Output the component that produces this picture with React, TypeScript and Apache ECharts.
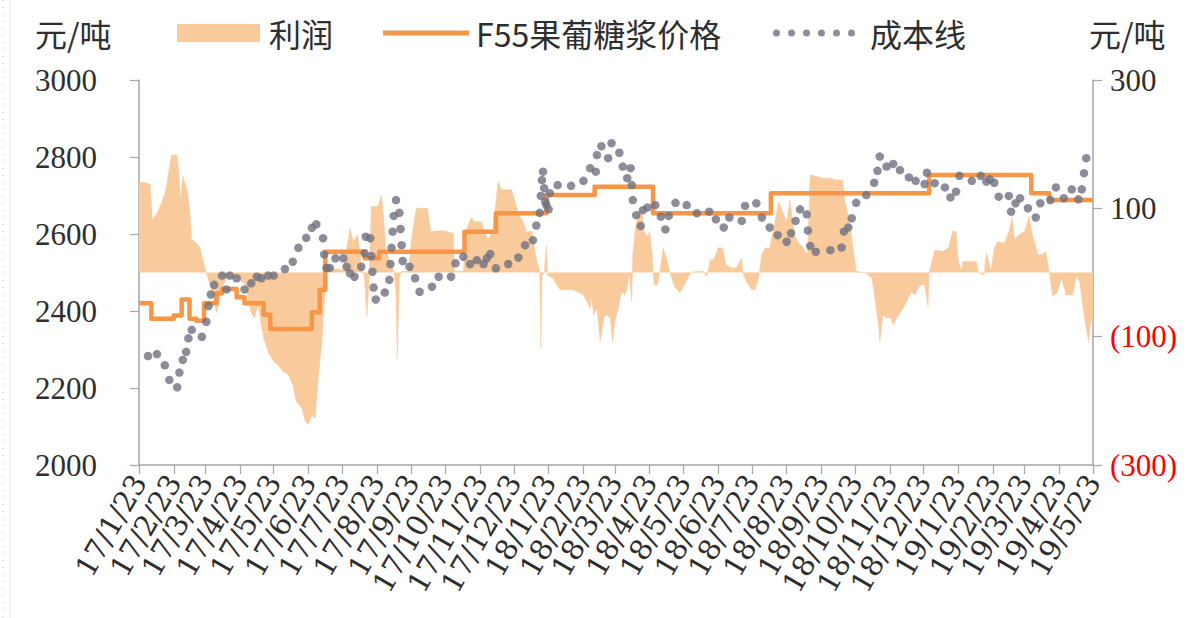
import React, { useEffect, useRef } from 'react';
import * as echarts from 'echarts';

// Monthly tick dates on the x axis (the 23rd of each month)
const monthTicks = [
  '2017-01-23', '2017-02-23', '2017-03-23', '2017-04-23', '2017-05-23', '2017-06-23',
  '2017-07-23', '2017-08-23', '2017-09-23', '2017-10-23', '2017-11-23', '2017-12-23',
  '2018-01-23', '2018-02-23', '2018-03-23', '2018-04-23', '2018-05-23', '2018-06-23',
  '2018-07-23', '2018-08-23', '2018-09-23', '2018-10-23', '2018-11-23', '2018-12-23',
  '2019-01-23', '2019-02-23', '2019-03-23', '2019-04-23', '2019-05-23',
];
const rightTicks = [-300, -100, 100, 300];

// F55果葡糖浆价格 (step changes)
const priceDates = [
  '2017-01-23', '2017-02-03', '2017-02-23', '2017-03-02', '2017-03-09', '2017-03-15', '2017-03-22',
  '2017-04-02', '2017-04-07', '2017-04-20', '2017-04-27', '2017-05-14', '2017-05-20', '2017-06-26',
  '2017-07-03', '2017-07-08', '2017-08-12', '2017-08-25', '2017-11-09', '2017-12-07', '2018-01-21',
  '2018-03-05', '2018-04-26', '2018-08-09', '2018-12-28', '2019-03-29', '2019-04-14', '2019-05-23',
];
const priceValues = [
  2420, 2380, 2388, 2430, 2380, 2375, 2420,
  2446, 2457, 2436, 2420, 2390, 2353, 2397,
  2455, 2554, 2537, 2554, 2606, 2654, 2701,
  2723, 2654, 2706, 2753, 2706, 2688, 2688,
];

// 成本线
const costDates = [
  '2017-01-31', '2017-02-08', '2017-02-15', '2017-02-19', '2017-02-26', '2017-02-28', '2017-03-03',
  '2017-03-06', '2017-03-08', '2017-03-11', '2017-03-20', '2017-03-24', '2017-03-26', '2017-03-28',
  '2017-03-31', '2017-04-07', '2017-04-11', '2017-04-14', '2017-04-20', '2017-04-27', '2017-05-03',
  '2017-05-08', '2017-05-12', '2017-05-18', '2017-05-23', '2017-06-02', '2017-06-09', '2017-06-14',
  '2017-06-21', '2017-06-26', '2017-06-30', '2017-07-06', '2017-07-07', '2017-07-09', '2017-07-12',
  '2017-07-17', '2017-07-24', '2017-07-27', '2017-07-30', '2017-08-03', '2017-08-09', '2017-08-12',
  '2017-08-13', '2017-08-17', '2017-08-18', '2017-08-19', '2017-08-20', '2017-08-22', '2017-08-30',
  '2017-09-03', '2017-09-04', '2017-09-05', '2017-09-06', '2017-09-07', '2017-09-09', '2017-09-12',
  '2017-09-13', '2017-09-14', '2017-09-15', '2017-09-21', '2017-09-26', '2017-09-30', '2017-10-11',
  '2017-10-17', '2017-10-28', '2017-11-01', '2017-11-08', '2017-11-14', '2017-11-20', '2017-11-26',
  '2017-11-29', '2017-12-02', '2017-12-07', '2017-12-18', '2017-12-27', '2018-01-02', '2018-01-09',
  '2018-01-12', '2018-01-15', '2018-01-16', '2018-01-17', '2018-01-18', '2018-01-19', '2018-01-20',
  '2018-01-21', '2018-01-23', '2018-01-24', '2018-01-31', '2018-02-12', '2018-02-23', '2018-03-01',
  '2018-03-06', '2018-03-07', '2018-03-11', '2018-03-17', '2018-03-20', '2018-03-27', '2018-03-30',
  '2018-04-03', '2018-04-06', '2018-04-07', '2018-04-08', '2018-04-11', '2018-04-15', '2018-04-17',
  '2018-04-21', '2018-04-28', '2018-05-03', '2018-05-07', '2018-05-10', '2018-05-16', '2018-05-26',
  '2018-06-04', '2018-06-15', '2018-06-21', '2018-06-28', '2018-07-03', '2018-07-14', '2018-07-17',
  '2018-07-27', '2018-08-01', '2018-08-08', '2018-08-15', '2018-08-23', '2018-08-27', '2018-08-31',
  '2018-09-04', '2018-09-10', '2018-09-11', '2018-09-13', '2018-09-18', '2018-10-01', '2018-10-11',
  '2018-10-13', '2018-10-17', '2018-10-20', '2018-10-24', '2018-11-02', '2018-11-09', '2018-11-12',
  '2018-11-14', '2018-11-20', '2018-11-26', '2018-12-02', '2018-12-10', '2018-12-16', '2018-12-24',
  '2018-12-26', '2019-01-02', '2019-01-11', '2019-01-16', '2019-01-21', '2019-01-24', '2019-02-04',
  '2019-02-12', '2019-02-17', '2019-02-20', '2019-02-24', '2019-02-28', '2019-03-09', '2019-03-11',
  '2019-03-15', '2019-03-19', '2019-03-26', '2019-04-02', '2019-04-06', '2019-04-15', '2019-04-20',
  '2019-04-27', '2019-05-04', '2019-05-10', '2019-05-13', '2019-05-15', '2019-05-17',
];
const costValues = [
  2283, 2288, 2259, 2221, 2202, 2240, 2273,
  2294, 2329, 2351, 2333, 2372, 2413, 2443,
  2468, 2492, 2456, 2492, 2485, 2456, 2472,
  2489, 2485, 2492, 2492, 2509, 2528, 2564,
  2590, 2616, 2625, 2589, 2547, 2512, 2512,
  2537, 2537, 2515, 2498, 2489, 2515, 2550,
  2593, 2589, 2543, 2502, 2461, 2430, 2448,
  2481, 2522, 2564, 2606, 2647, 2688, 2655,
  2613, 2571, 2530, 2515, 2485, 2450, 2463,
  2489, 2489, 2524, 2541, 2522, 2532, 2522,
  2537, 2548, 2511, 2522, 2539, 2571, 2584,
  2622, 2655, 2699, 2740, 2762, 2719, 2684,
  2675, 2664, 2706, 2727, 2725, 2738, 2771,
  2762, 2805, 2828, 2797, 2836, 2811, 2775,
  2745, 2771, 2727, 2688, 2649, 2621, 2662,
  2669, 2675, 2645, 2612, 2647, 2681, 2675,
  2654, 2658, 2638, 2617, 2643, 2634, 2673,
  2680, 2643, 2617, 2597, 2580, 2602, 2634,
  2664, 2651, 2609, 2569, 2554, 2558, 2565,
  2606, 2617, 2641, 2681, 2701, 2733, 2764,
  2801, 2775, 2782, 2766, 2747, 2738, 2730,
  2759, 2732, 2721, 2695, 2710, 2751, 2738,
  2751, 2736, 2742, 2733, 2697, 2699, 2658,
  2680, 2693, 2667, 2643, 2680, 2688, 2721,
  2693, 2716, 2690, 2716, 2758, 2797,
];

// 利润 (right axis)
const profitDates = [
  '2017-01-23', '2017-01-31', '2017-02-02', '2017-02-04', '2017-02-08', '2017-02-12', '2017-02-16',
  '2017-02-19', '2017-02-21', '2017-02-26', '2017-02-28', '2017-03-01', '2017-03-03', '2017-03-07',
  '2017-03-09', '2017-03-11', '2017-03-14', '2017-03-18', '2017-03-21', '2017-03-24', '2017-03-27',
  '2017-03-30', '2017-04-02', '2017-04-04', '2017-04-07', '2017-04-11', '2017-04-20', '2017-04-27',
  '2017-05-03', '2017-05-06', '2017-05-09', '2017-05-14', '2017-05-18', '2017-05-23', '2017-05-27',
  '2017-05-31', '2017-06-05', '2017-06-09', '2017-06-12', '2017-06-17', '2017-06-20', '2017-06-23',
  '2017-06-26', '2017-06-29', '2017-07-02', '2017-07-05', '2017-07-07', '2017-07-09', '2017-07-12',
  '2017-07-24', '2017-07-30', '2017-08-02', '2017-08-06', '2017-08-09', '2017-08-12', '2017-08-14',
  '2017-08-16', '2017-08-18', '2017-08-24', '2017-08-27', '2017-08-29', '2017-08-31', '2017-09-07',
  '2017-09-09', '2017-09-10', '2017-09-12', '2017-09-14', '2017-09-20', '2017-09-23', '2017-09-27',
  '2017-10-07', '2017-10-10', '2017-10-21', '2017-10-30', '2017-10-31', '2017-11-08', '2017-11-10',
  '2017-11-15', '2017-11-18', '2017-11-24', '2017-11-27', '2017-11-30', '2017-12-04', '2017-12-09',
  '2017-12-12', '2017-12-21', '2017-12-24', '2017-12-28', '2017-12-31', '2018-01-03', '2018-01-08',
  '2018-01-12', '2018-01-15', '2018-01-16', '2018-01-17', '2018-01-19', '2018-01-21', '2018-01-22',
  '2018-01-27', '2018-01-30', '2018-02-02', '2018-02-14', '2018-02-23', '2018-02-26', '2018-03-01',
  '2018-03-02', '2018-03-04', '2018-03-07', '2018-03-10', '2018-03-13', '2018-03-16', '2018-03-19',
  '2018-03-21', '2018-03-23', '2018-03-26', '2018-03-29', '2018-04-01', '2018-04-03', '2018-04-05',
  '2018-04-07', '2018-04-08', '2018-04-10', '2018-04-13', '2018-04-16', '2018-04-18', '2018-04-21',
  '2018-04-23', '2018-04-25', '2018-04-27', '2018-04-30', '2018-05-02', '2018-05-05', '2018-05-08',
  '2018-05-11', '2018-05-15', '2018-05-20', '2018-05-23', '2018-05-27', '2018-05-30', '2018-06-04',
  '2018-06-10', '2018-06-13', '2018-06-16', '2018-06-19', '2018-06-23', '2018-06-27', '2018-06-30',
  '2018-07-05', '2018-07-09', '2018-07-14', '2018-07-15', '2018-07-18', '2018-07-23', '2018-07-26',
  '2018-07-29', '2018-08-01', '2018-08-04', '2018-08-08', '2018-08-11', '2018-08-16', '2018-08-20',
  '2018-08-23', '2018-08-26', '2018-08-30', '2018-09-02', '2018-09-07', '2018-09-10', '2018-09-11',
  '2018-09-13', '2018-09-19', '2018-09-24', '2018-10-01', '2018-10-06', '2018-10-12', '2018-10-14',
  '2018-10-17', '2018-10-20', '2018-10-22', '2018-10-24', '2018-11-02', '2018-11-07', '2018-11-10',
  '2018-11-13', '2018-11-14', '2018-11-17', '2018-11-20', '2018-11-24', '2018-11-26', '2018-11-29',
  '2018-12-03', '2018-12-08', '2018-12-12', '2018-12-15', '2018-12-20', '2018-12-24', '2018-12-27',
  '2018-12-28', '2019-01-02', '2019-01-09', '2019-01-14', '2019-01-18', '2019-01-21', '2019-01-23',
  '2019-01-26', '2019-01-27', '2019-02-08', '2019-02-10', '2019-02-15', '2019-02-17', '2019-02-20',
  '2019-02-21', '2019-02-24', '2019-02-27', '2019-03-05', '2019-03-09', '2019-03-12', '2019-03-14',
  '2019-03-18', '2019-03-23', '2019-03-27', '2019-03-30', '2019-04-04', '2019-04-08', '2019-04-11',
  '2019-04-14', '2019-04-17', '2019-04-21', '2019-04-25', '2019-04-29', '2019-05-05', '2019-05-08',
  '2019-05-11', '2019-05-15', '2019-05-19', '2019-05-21', '2019-05-23',
];
const profitValues = [
  141, 139, 137, 82, 92, 108, 129,
  163, 183, 183, 147, 111, 150, 129,
  100, 51, 48, 40, 20, 0, -19,
  -35, -63, -50, -24, -9, -9, -17,
  -63, -71, -50, -102, -123, -139, -144,
  -154, -159, -175, -201, -211, -232, -237,
  -222, -227, -159, -108, -50, 0, 7,
  4, 69, 48, 59, 12, -10, -69,
  -14, 103, 103, 121, 85, 33, 2,
  -30, -134, -9, 2, 2, 54, 100,
  100, 64, 65, 61, 2, 2, 64,
  86, 79, 79, 64, 51, 64, 142,
  129, 129, 111, 87, 82, 64, 64,
  22, 2, -118, -5, 0, 43, -5,
  -9, -19, -27, -27, -35, -45, -56,
  -35, -66, -56, -108, -71, -66, -71,
  -108, -76, -56, -30, -35, -24, 0,
  -45, 28, 64, 95, 100, 64, 56,
  64, 33, -19, -19, 0, 38, 22,
  0, -22, -32, -22, -9, 0, 2,
  2, -6, 20, 20, 38, 38, 12,
  7, 7, 22, 0, -14, -27, -27,
  -9, 28, 38, 38, 64, 111, 92,
  79, 113, 59, 48, 38, 28, 38,
  152, 150, 147, 147, 144, 144, 111,
  90, 54, 28, 2, -1, -9, -45,
  -82, -108, -66, -71, -71, -82, -71,
  -61, -45, -30, -35, -19, -19, -53,
  0, 35, 33, 38, 64, 64, 17,
  2, 17, 17, 0, -4, 30, 12,
  2, 38, 48, 46, 64, 87, 51,
  59, 64, 87, 59, 28, 28, 33,
  0, -37, -32, -9, -35, -35, -6,
  -14, -66, -108, -76, -76,
];

const PROFIT_COLOR = '#F9CB9C';
const PRICE_COLOR = '#F79646';
const COST_COLOR = '#6F717F';
const AXIS_COLOR = '#A6A6A6';
const TEXT_COLOR = '#2E2E2E';
const CJK_FONT = "'Noto Sans CJK SC', 'Noto Sans', sans-serif";
const SERIF = "'Liberation Serif', 'Times New Roman', serif";

// date string -> UTC timestamp (x position on the date axis)
function toTs(s: string): number {
  const [y, m, d] = s.split('-').map(Number);
  return Date.UTC(y, m - 1, d);
}

function dotsIcon(): string {
  const r = 3.5;
  let d = 'path://';
  for (let k = 0; k < 6; k++) {
    const cx = r + k * 15;
    d += `M${cx - r},${r} a${r},${r} 0 1,0 ${2 * r},0 a${r},${r} 0 1,0 ${-2 * r},0 Z `;
  }
  return d.trim();
}

export default function App() {
  const ref = useRef<HTMLDivElement>(null);

  useEffect(() => {
    if (!ref.current) return;
    const chart = echarts.init(ref.current, null, { renderer: 'svg' });

    const legendText = { fontFamily: CJK_FONT, fontSize: 32, color: TEXT_COLOR };
    const tickTs = monthTicks.map(toTs);

    const option: any = {
      animation: false,
      backgroundColor: '#ffffff',
      grid: { left: 139, right: 111, top: 80, bottom: 153, containLabel: false },
      legend: [
        {
          data: ['利润'], left: 172, top: 12, icon: 'rect', itemWidth: 83, itemHeight: 18,
          textStyle: { ...legendText, padding: [0, 0, 0, 4] }, selectedMode: false,
        },
        {
          data: ['F55果葡糖浆价格'], left: 378, top: 12, icon: 'rect', itemWidth: 86, itemHeight: 5,
          textStyle: { ...legendText, padding: [0, 0, 0, 2] }, selectedMode: false,
        },
        {
          data: ['成本线'], left: 768, top: 12, icon: dotsIcon(), itemWidth: 82, itemHeight: 7,
          textStyle: { ...legendText, padding: [0, 0, 0, 10] }, selectedMode: false,
        },
      ],
      graphic: [
        { type: 'line', shape: { x1: 3, y1: 0, x2: 3, y2: 618 }, style: { stroke: '#BBBBBB', lineDash: [1, 6], lineWidth: 1 } },
        { type: 'line', shape: { x1: 10, y1: 0, x2: 10, y2: 618 }, style: { stroke: '#E8E8E8', lineWidth: 1 } },
        {
          type: 'text', left: 35, top: 17,
          style: { text: '元/吨', fontFamily: CJK_FONT, fontSize: 32, fill: TEXT_COLOR },
        },
        {
          type: 'text', left: 1089, top: 17,
          style: { text: '元/吨', fontFamily: CJK_FONT, fontSize: 32, fill: TEXT_COLOR },
        },
      ],
      xAxis: {
        type: 'value',
        min: tickTs[0],
        max: tickTs[tickTs.length - 1],
        axisLine: { show: true, onZero: false, lineStyle: { color: AXIS_COLOR, width: 1.5 } },
        axisTick: { show: true, length: 9, lineStyle: { color: AXIS_COLOR, width: 1.2 }, customValues: tickTs },
        splitLine: { show: false },
        axisLabel: {
          customValues: tickTs,
          rotate: 60,
          margin: 12,
          fontFamily: "'DejaVu Serif', serif",
          fontSize: 29,
          color: TEXT_COLOR,
          hideOverlap: false,
          formatter: (v: number) => {
            const d = new Date(v);
            return `${d.getUTCFullYear() % 100}/${d.getUTCMonth() + 1}/${d.getUTCDate()}`;
          },
        },
      },
      yAxis: [
        {
          type: 'value', position: 'left', min: 2000, max: 3000, interval: 200,
          axisLine: { show: true, lineStyle: { color: AXIS_COLOR, width: 1.5 } },
          axisTick: { show: true, length: 9, lineStyle: { color: AXIS_COLOR, width: 1.2 } },
          splitLine: { show: false },
          axisLabel: {
            margin: 42, fontFamily: SERIF, fontSize: 31, color: TEXT_COLOR,
            formatter: (v: number) => String(v),
          },
        },
        {
          type: 'value', position: 'right', min: -300, max: 300,
          axisLine: { show: true, lineStyle: { color: AXIS_COLOR, width: 1.5 } },
          axisTick: { show: true, length: 9, lineStyle: { color: AXIS_COLOR, width: 1.2 }, customValues: rightTicks },
          splitLine: { show: false },
          axisLabel: {
            customValues: rightTicks,
            margin: 17,
            fontFamily: SERIF,
            fontSize: 31,
            color: TEXT_COLOR,
            formatter: (v: number) => (v < 0 ? `{neg|(${-v})}` : `${v}`),
            rich: { neg: { color: '#FF0000', fontFamily: SERIF, fontSize: 31 } },
          },
        },
      ],
      series: [
        {
          name: '利润',
          type: 'line',
          yAxisIndex: 1,
          z: 1,
          symbol: 'none',
          color: PROFIT_COLOR,
          itemStyle: { color: PROFIT_COLOR },
          lineStyle: { width: 0.5, color: PROFIT_COLOR },
          areaStyle: { color: PROFIT_COLOR, opacity: 1 },
          data: profitDates.map((d, i) => [toTs(d), profitValues[i]]),
        },
        {
          name: 'F55果葡糖浆价格',
          type: 'line',
          yAxisIndex: 0,
          z: 2,
          step: 'end',
          symbol: 'none',
          color: PRICE_COLOR,
          itemStyle: { color: PRICE_COLOR },
          lineStyle: { width: 4.5, color: PRICE_COLOR, join: 'round' },
          data: priceDates.map((d, i) => [toTs(d), priceValues[i]]),
        },
        {
          name: '成本线',
          type: 'scatter',
          yAxisIndex: 0,
          z: 3,
          symbol: 'circle',
          symbolSize: 8.5,
          itemStyle: { color: COST_COLOR },
          data: costDates.map((d, i) => [toTs(d), costValues[i]]),
        },
      ],
    };

    chart.setOption(option);
    return () => chart.dispose();
  }, []);

  return (
    <div
      ref={ref}
      style={{ position: 'fixed', left: 0, top: 0, width: 1204, height: 618, background: '#ffffff' }}
    />
  );
}
